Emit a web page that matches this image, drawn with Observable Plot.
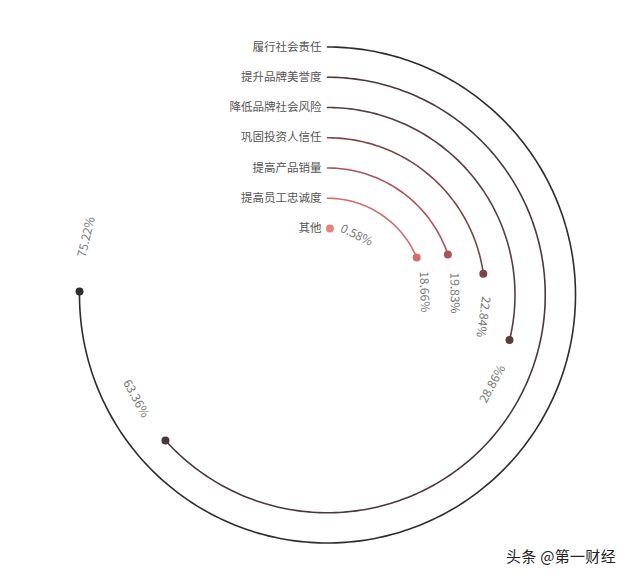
<!DOCTYPE html>
<html>
<head>
<meta charset="utf-8">
<script src="https://cdn.jsdelivr.net/npm/d3@7"></script>
<script src="https://cdn.jsdelivr.net/npm/@observablehq/plot@0.6"></script>
<style>
  html, body { margin: 0; padding: 0; background: #fff; }
  #wrap { position: relative; width: 640px; height: 579px; font-family: "Noto Sans CJK SC", "Noto Sans", sans-serif; }
  #mark { position: absolute; left: 506px; top: 545px; font-size: 15px; color: #222; letter-spacing: 0.3px; }
</style>
</head>
<body>
<div id="wrap"><div id="chart"></div><div id="mark">头条 @第一财经</div></div>
<script>
const categories = ["履行社会责任", "提升品牌美誉度", "降低品牌社会风险", "巩固投资人信任", "提高产品销量", "提高员工忠诚度", "其他"];
const values = [75.22, 63.36, 28.86, 22.84, 19.83, 18.66, 0.58];
const valueLabels = ["75.22%", "63.36%", "28.86%", "22.84%", "19.83%", "18.66%", "0.58%"];
const colors = ["#2e2c2d", "#4a393c", "#5a3d41", "#7c4449", "#a8545a", "#d26f6c", "#e8827c"];

// radius scale (Plot's own scale): one ring per category
const R = Plot.scale({x: {type: "point", domain: categories, range: [248, 66.5], padding: 0}});
const rad = d => d * Math.PI / 180;

const arcs = [];
const ends = [];
const labels = [];
const texts = [];
categories.forEach((c, i) => {
  const r = R.apply(c);
  const end = values[i] * 3.6;
  for (let a = 0; a < end; a += 1) arcs.push({cat: c, x: r * Math.sin(rad(a)), y: r * Math.cos(rad(a))});
  arcs.push({cat: c, x: r * Math.sin(rad(end)), y: r * Math.cos(rad(end))});
  ends.push({cat: c, x: r * Math.sin(rad(end)), y: r * Math.cos(rad(end))});
  labels.push({cat: c, x: 0, y: r});
  const psi = end + 7.5 + (1300 * valueLabels[i].length / 6) / r;
  const rot = (psi > 105 && psi < 265) ? psi - 180 : psi;
  texts.push({text: valueLabels[i], x: r * Math.sin(rad(psi)), y: r * Math.cos(rad(psi)), rot});
});

const chart = Plot.plot({
  width: 640,
  height: 579,
  margin: 0,
  style: {fontFamily: '"Noto Sans CJK SC", "Noto Sans", sans-serif', background: "transparent"},
  x: {domain: [-327, 313], axis: null},
  y: {domain: [-284.5, 294.5], axis: null},
  color: {domain: categories, range: colors},
  marks: [
    Plot.line(arcs, {x: "x", y: "y", z: "cat", stroke: "cat", strokeWidth: 1.6, curve: "linear"}),
    Plot.dot(ends, {x: "x", y: "y", fill: "cat", r: 4}),
    Plot.text(labels, {x: "x", y: "y", text: "cat", textAnchor: "end", dx: -6, fill: "#555", fontSize: 11.5}),
    Plot.text(texts, {x: "x", y: "y", text: "text", rotate: "rot", fill: "#777", fontSize: 12})
  ]
});
document.getElementById("chart").appendChild(chart);
</script>
</body>
</html>
